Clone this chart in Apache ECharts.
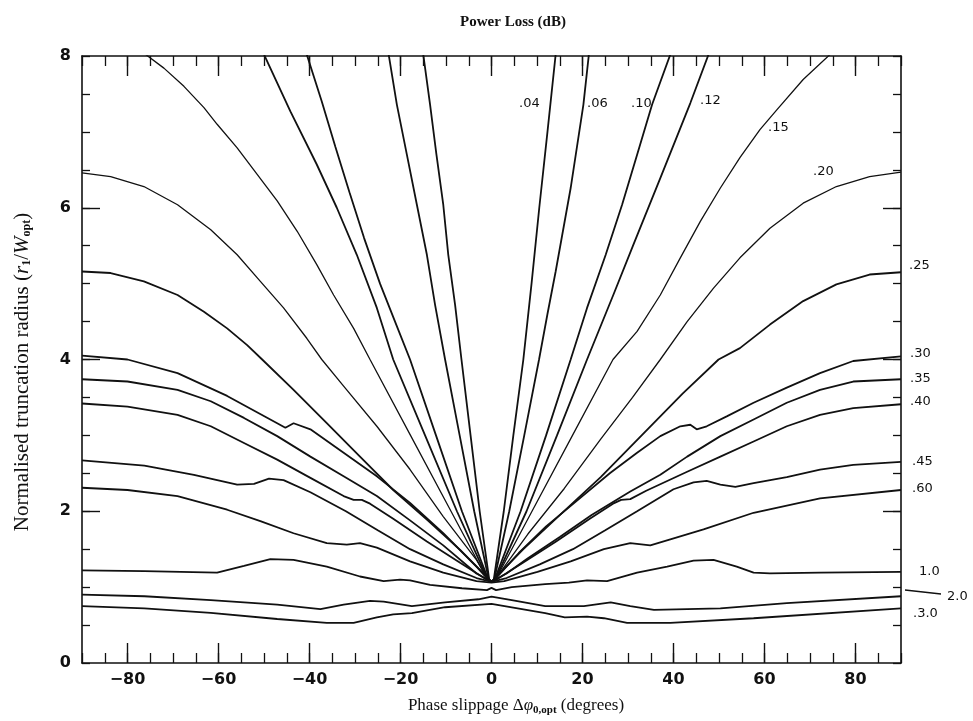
<!DOCTYPE html>
<html>
<head>
<meta charset="utf-8">
<script src="https://cdn.jsdelivr.net/npm/echarts@6/dist/echarts.min.js"></script>
<style>
  html, body { margin: 0; padding: 0; background: #ffffff; }
  #chart { width: 973px; height: 721px; }
</style>
</head>
<body>
<div id="chart"></div>
<script>
// Power-loss contours (dB) over phase slippage (deg) and normalised truncation radius.
// Each contour is listed left to right as [phase slippage, radius] pairs.
const loss004 = [[-15.0,8.02],[-13.5,7.36],[-12.1,6.7],[-10.6,6.04],[-9.5,5.38],[-8.0,4.72],[-6.6,4.0],[-4.6,3.0],[-2.6,2.0],[-0.5,1.1],[0,1.07],[0.5,1.1],[2.7,2.0],[4.8,3.0],[7.0,4.0],[8.8,5.0],[10.5,6.0],[12.3,7.0],[14.1,8.02]];
const loss006 = [[-22.6,8.02],[-20.8,7.36],[-18.6,6.7],[-16.4,6.04],[-14.2,5.38],[-12.4,4.72],[-10.2,4.0],[-7.0,3.0],[-3.8,2.0],[-0.6,1.1],[0,1.07],[0.6,1.1],[3.9,2.0],[7.2,3.0],[10.45,4.0],[12.3,4.6],[14.1,5.16],[17.4,6.26],[20.2,7.36],[21.4,8.02]];
const loss010 = [[-40.6,8.02],[-37.3,7.4],[-34.3,6.8],[-31.2,6.2],[-28.0,5.6],[-24.5,5.0],[-21.2,4.5],[-17.9,4.0],[-12.2,3.0],[-6.5,2.0],[-0.7,1.1],[0,1.07],[0.7,1.1],[6.4,2.0],[12.0,3.0],[17.4,4.0],[21.0,4.68],[25.1,5.38],[28.7,6.04],[32.0,6.7],[35.3,7.36],[39.3,8.02]];
const loss012 = [[-50.0,8.02],[-44.2,7.27],[-38.4,6.57],[-34.0,6.0],[-29.6,5.38],[-25.2,4.68],[-21.6,4.0],[-14.6,3.0],[-7.6,2.0],[-0.8,1.1],[0,1.07],[0.8,1.1],[7.7,2.0],[14.4,3.0],[21.0,4.0],[26.9,4.87],[31.3,5.53],[37.1,6.39],[43.7,7.38],[47.7,8.02]];
const loss015 = [[-76.0,8.02],[-72.0,7.84],[-67.6,7.6],[-63.2,7.32],[-60.3,7.1],[-55.9,6.79],[-51.5,6.44],[-47.1,6.09],[-42.7,5.69],[-38.4,5.25],[-34.7,4.85],[-30.3,4.41],[-26.7,4.0],[-17.8,3.0],[-8.9,2.0],[-0.9,1.1],[0,1.07],[0.9,1.1],[8.9,2.0],[17.8,3.0],[26.7,4.0],[32.0,4.37],[37.1,4.85],[41.5,5.34],[45.9,5.82],[50.3,6.26],[54.6,6.66],[59.0,7.03],[62.7,7.29],[68.5,7.69],[74.4,8.02]];
const loss020 = [[-90,6.46],[-83.7,6.41],[-76.4,6.28],[-69.0,6.04],[-61.7,5.71],[-55.9,5.38],[-50.8,5.03],[-45.7,4.68],[-40.6,4.28],[-37.3,4.0],[-32.5,3.65],[-25.2,3.12],[-17.9,2.55],[-10.6,1.93],[-3.3,1.36],[-1.0,1.12],[0,1.07],[1.0,1.12],[8.0,1.7],[16.0,2.3],[24.0,2.95],[31.0,3.5],[37.1,4.0],[43.0,4.5],[48.8,4.94],[54.6,5.34],[61.2,5.73],[68.5,6.06],[75.8,6.28],[83.1,6.41],[90,6.47]];
const loss025 = [[-90,5.16],[-83.7,5.14],[-76.4,5.03],[-69.0,4.85],[-63.2,4.63],[-58.1,4.41],[-53.7,4.19],[-50.4,4.0],[-43.5,3.6],[-36.2,3.16],[-28.9,2.72],[-21.6,2.28],[-14.2,1.89],[-6.9,1.49],[-1.1,1.14],[0,1.07],[1.1,1.14],[7.0,1.5],[15.0,1.95],[24.0,2.45],[33.0,3.0],[42.0,3.55],[49.9,4.0],[54.6,4.15],[61.2,4.46],[68.5,4.77],[75.8,4.99],[83.1,5.12],[90,5.15]];
const loss030 = [[-90,4.05],[-80,4.0],[-69,3.82],[-58.1,3.52],[-47.1,3.16],[-45.3,3.1],[-43.5,3.16],[-39.8,3.08],[-32.5,2.77],[-25.2,2.46],[-17.9,2.11],[-10.6,1.71],[-3.3,1.27],[-1.0,1.12],[0,1.07],[1.0,1.12],[6.0,1.45],[12.0,1.8],[19.0,2.15],[26.0,2.5],[32.0,2.77],[37.1,2.99],[41.5,3.12],[43.7,3.14],[45.1,3.08],[47.3,3.12],[51.7,3.25],[57.6,3.43],[64.9,3.63],[72.2,3.82],[79.5,3.98],[90,4.04]];
const loss035 = [[-90,3.74],[-80,3.71],[-69,3.6],[-61.7,3.45],[-54.4,3.23],[-47.1,2.99],[-39.8,2.72],[-32.5,2.46],[-25.2,2.2],[-17.9,1.88],[-10.6,1.55],[-3.3,1.18],[0,1.07],[3.3,1.18],[8.0,1.38],[15.0,1.66],[22.0,1.95],[30.5,2.26],[37.1,2.48],[43.0,2.72],[50.3,2.99],[57.6,3.21],[64.9,3.43],[72.2,3.6],[79.5,3.71],[90,3.74]];
const loss040 = [[-90,3.42],[-80,3.38],[-69,3.27],[-61.7,3.12],[-54.4,2.9],[-47.1,2.68],[-39.8,2.44],[-32.5,2.2],[-30.3,2.15],[-28.5,2.15],[-26.7,2.1],[-21.6,1.9],[-14.2,1.6],[-6.9,1.32],[-1.1,1.1],[0,1.07],[1.1,1.1],[6.9,1.32],[14.2,1.6],[21.6,1.9],[26.7,2.1],[28.5,2.15],[30.5,2.16],[34.0,2.27],[43.0,2.52],[50.3,2.72],[57.6,2.92],[64.9,3.12],[72.2,3.27],[79.5,3.36],[90,3.41]];
const loss045 = [[-90,2.67],[-76.3,2.6],[-65.4,2.48],[-55.9,2.35],[-52.2,2.36],[-48.9,2.43],[-45.7,2.41],[-39.8,2.25],[-32.0,2.0],[-25.0,1.75],[-17.9,1.5],[-10.6,1.3],[-3.3,1.12],[0,1.07],[3.3,1.12],[10.6,1.3],[17.9,1.5],[25.0,1.75],[32.0,2.0],[40.0,2.29],[44.4,2.38],[47.3,2.4],[50.3,2.35],[53.6,2.32],[57.6,2.37],[64.9,2.45],[72.2,2.55],[79.5,2.61],[90,2.65]];
const loss060 = [[-90,2.31],[-80,2.28],[-69,2.2],[-58.1,2.02],[-50.8,1.87],[-43.5,1.71],[-36.2,1.58],[-31.8,1.56],[-28.9,1.58],[-25.2,1.52],[-17.9,1.34],[-10.6,1.19],[-3.3,1.08],[0,1.06],[2.8,1.08],[10.1,1.2],[17.4,1.34],[24.7,1.5],[30.5,1.58],[34.9,1.55],[39.3,1.63],[46.6,1.76],[57.6,1.98],[72.2,2.17],[90,2.28]];
const loss1 = [[-90,1.22],[-76.3,1.21],[-60.3,1.19],[-54.4,1.28],[-48.6,1.37],[-43.5,1.36],[-36.2,1.27],[-28.9,1.14],[-23.7,1.08],[-20.1,1.1],[-17.9,1.09],[-13.5,1.03],[-6.5,0.985],[-1.0,0.96],[0,0.99],[1.0,0.96],[4.45,1.0],[11.8,1.04],[17.0,1.06],[21.0,1.09],[25.4,1.08],[32.0,1.19],[38.6,1.27],[44.4,1.35],[48.8,1.36],[53.9,1.27],[57.6,1.19],[61.2,1.18],[72.2,1.19],[90,1.2]];
const loss2 = [[-90,0.9],[-76.3,0.88],[-61.7,0.83],[-47.1,0.77],[-37.6,0.71],[-32.5,0.77],[-26.7,0.82],[-23.7,0.81],[-17.5,0.75],[-10.2,0.8],[-2.85,0.84],[0,0.875],[4.45,0.83],[11.8,0.75],[20.3,0.75],[26.2,0.8],[30.5,0.75],[35.7,0.7],[50.3,0.72],[64.9,0.79],[90,0.88]];
const loss3 = [[-90,0.75],[-76.3,0.72],[-61.7,0.66],[-47.1,0.58],[-36.2,0.53],[-30.3,0.53],[-25.2,0.6],[-21.6,0.64],[-17.5,0.656],[-10.2,0.735],[0,0.78],[11.8,0.656],[16.1,0.6],[21.0,0.61],[24.7,0.59],[29.8,0.53],[39.3,0.53],[57.6,0.59],[90,0.72]];

const contours = [loss004, loss006, loss010, loss012, loss015, loss020, loss025, loss030, loss035, loss040, loss045, loss060, loss1, loss2, loss3];
const levelLabels = ['.04', '.06', '.10', '.12', '.15', '.20', '.25', '.30', '.35', '.40', '.45', '.60', '1.0', '2.0', '.3.0'];

// Axis ticks and labels
const xLabelValues = [-80, -60, -40, -20, 0, 20, 40, 60, 80];
const yLabelValues = [0, 2, 4, 6, 8];
const xMajorTicks = [-80, -60, -40, -20, 0, 20, 40, 60, 80];
const yMajorTicks = [2, 4, 6];

const chart = echarts.init(document.getElementById('chart'), null, { renderer: 'canvas' });

const INK = '#111';
const tickFont = { fontFamily: 'DejaVu Sans', fontWeight: 'bold', fontSize: 16, color: INK };

function xAxisDef(position, major, withLabels) {
  return {
    type: 'value', min: -90, max: 90, interval: 5, position: position,
    axisLine: { show: !major, onZero: false, lineStyle: { color: INK, width: 1.6 } },
    axisTick: major
      ? { show: true, inside: true, length: 20, customValues: xMajorTicks, lineStyle: { color: INK, width: 1.4 } }
      : { show: true, inside: true, length: 10, lineStyle: { color: INK, width: 1.3 } },
    axisLabel: withLabels
      ? Object.assign({ show: true, margin: 9, customValues: xLabelValues,
          formatter: v => (v < 0 ? '\u2212' + Math.abs(v) : String(v)) }, tickFont)
      : { show: false },
    splitLine: { show: false }
  };
}
function yAxisDef(position, major, withLabels) {
  return {
    type: 'value', min: 0, max: 8, interval: 0.5, position: position,
    axisLine: { show: !major, onZero: false, lineStyle: { color: INK, width: 1.6 } },
    axisTick: major
      ? { show: true, inside: true, length: 18, customValues: yMajorTicks, lineStyle: { color: INK, width: 1.4 } }
      : { show: true, inside: true, length: 8, lineStyle: { color: INK, width: 1.3 } },
    axisLabel: withLabels
      ? Object.assign({ show: true, margin: 11, customValues: yLabelValues,
          formatter: v => String(v) }, tickFont)
      : { show: false },
    splitLine: { show: false }
  };
}

const series = contours.map((pts, i) => ({
  type: 'line',
  name: levelLabels[i],
  xAxisIndex: 0,
  yAxisIndex: 0,
  data: pts,
  showSymbol: false,
  symbol: 'none',
  smooth: false,
  clip: true,
  silent: true,
  lineStyle: { color: INK, width: (i === 4 || i === 5) ? 1.3 : 1.8 },
  z: 3
}));

// Placement of the level annotations (pixel positions of their left edge / vertical middle)
const labelSpots = [
  [519, 105], [587, 105], [631, 105], [700, 102], [768, 129], [813, 173],
  [909, 267], [910, 355], [910, 380], [910, 403], [912, 463], [912, 490],
  [919, 573], [947, 598], [913, 615]
];
const labelFont = '13px "DejaVu Sans"';

const graphics = levelLabels.map((t, i) => ({
  type: 'text', left: labelSpots[i][0], top: labelSpots[i][1] - 8, z: 10, silent: true,
  style: { text: t, font: labelFont, fill: INK }
}));
// leader stroke next to the 2.0 annotation
graphics.push({
  type: 'line', z: 10, silent: true,
  shape: { x1: 905, y1: 590, x2: 941, y2: 594 },
  style: { stroke: INK, lineWidth: 1.3 }
});
// chart title
graphics.push({
  type: 'text', z: 10, silent: true, x: 513, y: 22,
  style: { text: 'Power Loss (dB)', font: 'bold 15px "Liberation Serif"', fill: INK,
           align: 'center', verticalAlign: 'middle' }
});
// x axis title
graphics.push({
  type: 'text', z: 10, silent: true, x: 516, y: 706,
  style: {
    text: '{a|Phase slippage \u0394}{i|\u03C6}{s|0,opt}{a| (degrees)}',
    align: 'center', verticalAlign: 'middle', fill: INK,
    rich: {
      a: { font: '17px "Liberation Serif"', fill: INK },
      i: { font: 'italic 17px "Liberation Serif"', fill: INK },
      s: { font: 'bold 11px "Liberation Serif"', fill: INK, padding: [8, 0, 0, 0] }
    }
  }
});
// y axis title
graphics.push({
  type: 'text', z: 10, silent: true, x: 22, y: 372, rotation: Math.PI / 2,
  style: {
    text: '{a|Normalised truncation radius (}{i|r}{s|1}{a|/}{i|W}{s|opt}{a|)}',
    align: 'center', verticalAlign: 'middle', fill: INK,
    rich: {
      a: { font: '21px "Liberation Serif"', fill: INK },
      i: { font: 'italic 21px "Liberation Serif"', fill: INK },
      s: { font: 'bold 12px "Liberation Serif"', fill: INK, padding: [10, 0, 0, 0] }
    }
  }
});

chart.setOption({
  backgroundColor: '#ffffff',
  animation: false,
  grid: { left: 82, top: 56, width: 819, height: 607, containLabel: false },
  xAxis: [
    xAxisDef('bottom', false, true),
    xAxisDef('bottom', true, false),
    xAxisDef('top', false, false),
    xAxisDef('top', true, false)
  ],
  yAxis: [
    yAxisDef('left', false, true),
    yAxisDef('left', true, false),
    yAxisDef('right', false, false),
    yAxisDef('right', true, false)
  ],
  series: series,
  graphic: graphics
});
</script>
</body>
</html>
